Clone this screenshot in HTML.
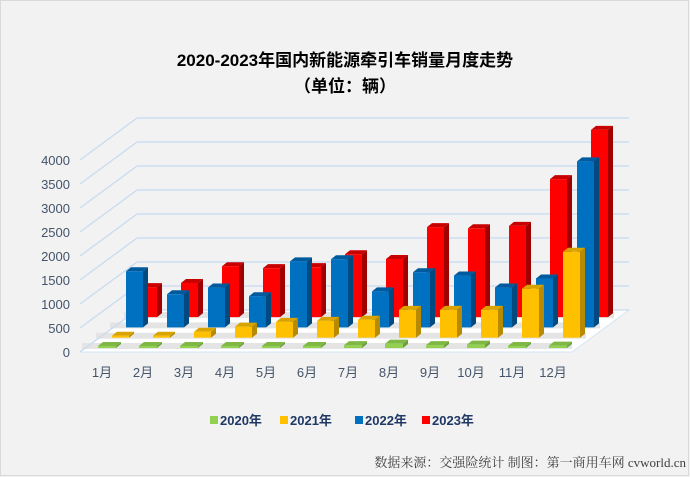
<!DOCTYPE html>
<html><head><meta charset="utf-8"><style>
html,body{margin:0;padding:0;background:#f2f2f2;}
#wrap{position:relative;width:690px;height:477px;background:#f2f2f2;overflow:hidden;font-family:"Liberation Sans","Noto Sans CJK SC",sans-serif;}
svg{position:absolute;left:0;top:0;}
</style></head><body>
<div id="wrap">
<svg id="chart" width="690" height="477">
<rect x="0.5" y="0.5" width="688" height="475" fill="none" stroke="#d9d9d9"/>
<text x="345" y="66" text-anchor="middle" font-size="17" font-weight="bold" fill="#000">2020-2023年国内新能源牵引车销量月度走势</text>
<text x="345" y="92" text-anchor="middle" font-size="17" font-weight="bold" fill="#000">（单位：辆）</text>
<g id="axes"></g>
<g id="bars"></g>
<g id="legend"></g>
<text x="686" y="467" text-anchor="end" font-size="13" fill="#404040" font-family="'Liberation Serif','Noto Serif CJK SC',serif">数据来源：交强险统计 制图：第一商用车网 cvworld.cn</text>
</svg>
</div>
<script>
const months=["1月","2月","3月","4月","5月","6月","7月","8月","9月","10月","11月","12月"];
const seriesNames=["2020年","2021年","2022年","2023年"];
const s2020=[20,10,20,20,20,20,60,90,60,70,30,50];
const s2021=[30,30,125,230,330,350,375,580,580,580,1020,1790];
const s2022=[1170,690,830,650,1375,1420,750,1150,1080,830,1020,3460];
const s2023=[625,710,1060,1020,1040,1310,1210,1875,1850,1900,2875,3900];
const yTicks=[0,500,1000,1500,2000,2500,3000,3500,4000];
const NS="http://www.w3.org/2000/svg";
const colors=[["#92d050","#6f9f3c","#7fb845"],["#ffc000","#b88a00","#d9a300"],["#0070c0","#004a80","#005a9e"],["#ff0000","#a00000","#c80000"]];
const PX=24/500;
function yv(v){return v*PX;}
function mx(i,r){return 98+r*14+41*i;}
function base(r){return 348-r*10.3;}
function el(tag,attrs,parent){const e=document.createElementNS(NS,tag);for(const k in attrs)e.setAttribute(k,attrs[k]);parent.appendChild(e);return e;}
const axes=document.getElementById('axes');
// floor
const fl=el('polygon',{points:"80,352 572,352 629,310 137,310",fill:"#ffffff",stroke:"#d6e4f5"},axes);


for(let r=0;r<4;r++){
  const y=base(r)-1;
  const sh=el('rect',{x:82+r*14,y:y-4,width:490,height:6,fill:"#e4e4e4"},axes);
  
  
}
yTicks.forEach(t=>{
  const d=yv(t);
  const g=el('polyline',{points:`80,${352-d} 137,${310-d} 629,${310-d}`,fill:"none",stroke:"#c9daf2","stroke-width":1.3},axes);
  
  
  const tx=el('text',{x:70,y:357-d,"text-anchor":"end","font-size":13,fill:"#44546a"},axes);
  tx.textContent=t;
  
  
});
months.forEach((m,i)=>{
  const tx=el('text',{x:102+41*i,y:377,"text-anchor":"middle","font-size":13,fill:"#44546a"},axes);
  tx.textContent=m;
  
  
});
const bars=document.getElementById('bars');
const all=[s2020,s2021,s2022,s2023];
for(let r=3;r>=0;r--){
  const w=r===0?18:17, dx=5, dy=4;
  all[r].forEach((v,i)=>{
    const x=mx(i,r), b=base(r), h=Math.max(yv(v),2), t=b-h;
    const g=el('g',{},bars);
    
    
    el('polygon',{points:`${x+w},${b} ${x+w+dx},${b-dy} ${x+w+dx},${t-dy} ${x+w},${t}`,fill:colors[r][1]},g);
    el('polygon',{points:`${x},${t} ${x+dx},${t-dy} ${x+w+dx},${t-dy} ${x+w},${t}`,fill:colors[r][2]},g);
    el('rect',{x:x,y:t,width:w,height:h,fill:colors[r][0]},g);
  });
}
const leg=document.getElementById('legend');
const lx=[210,280,355,422];
seriesNames.forEach((n,r)=>{
  const g=el('g',{},leg);
  
  
  el('rect',{x:lx[r],y:416,width:8,height:8,fill:colors[r][0]},g);
  const tx=el('text',{x:lx[r]+10,y:425,"font-size":13,"font-weight":"bold",fill:"#1f3864"},g);
  tx.textContent=n;
});
</script>
</body></html>
